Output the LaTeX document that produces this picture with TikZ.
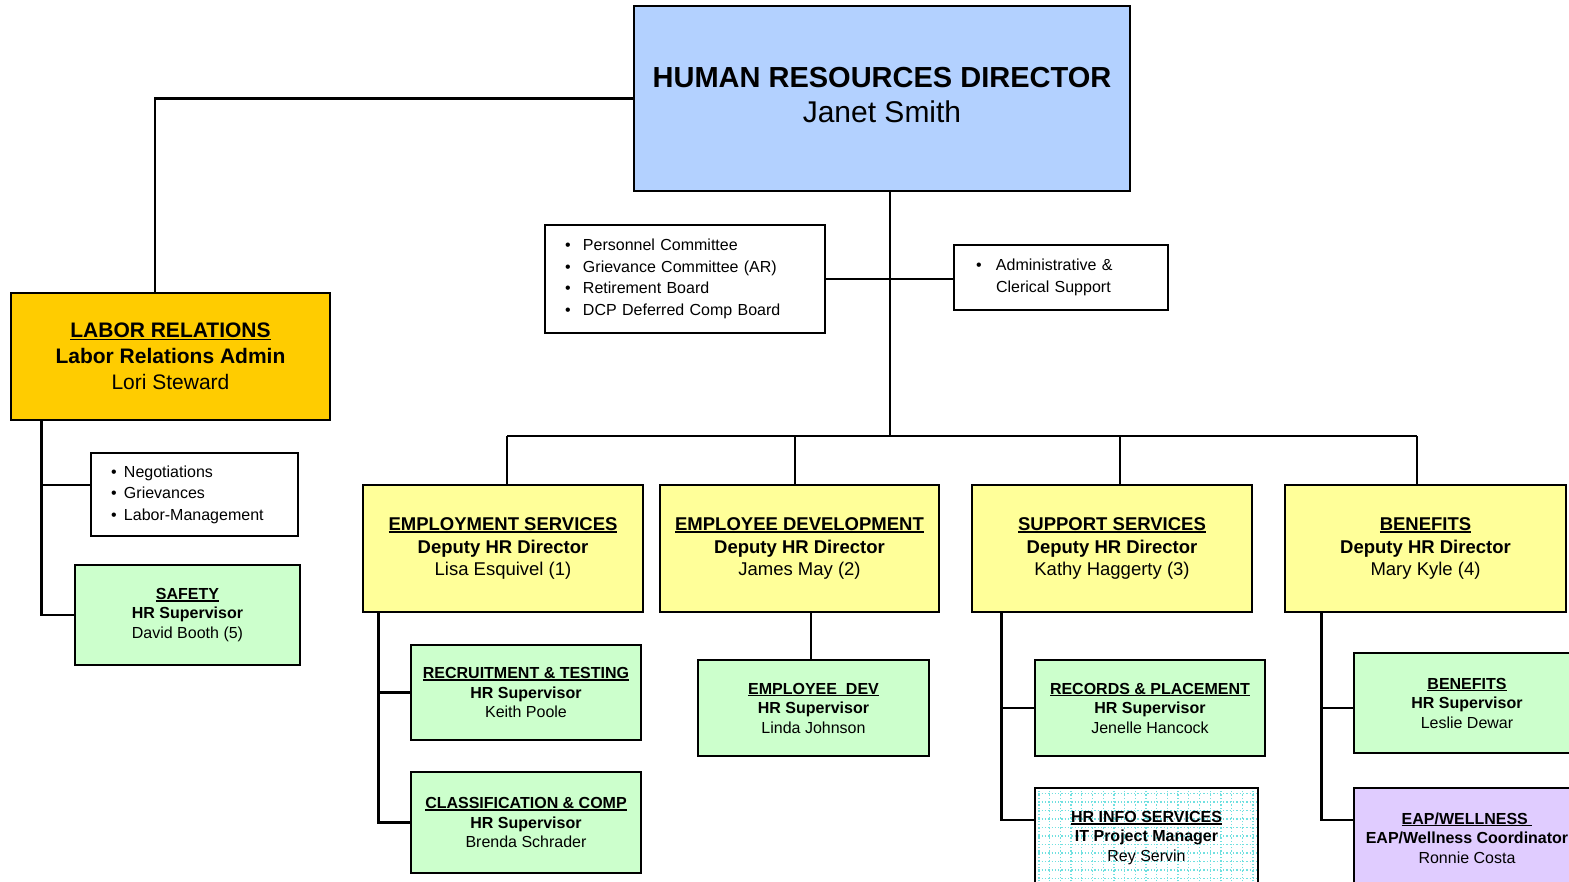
\documentclass[tikz,border=0pt]{standalone}
\usepackage{fontspec}
\setmainfont{Liberation Sans}
\definecolor{hrblue}{HTML}{B3D1FF}
\definecolor{hrgold}{HTML}{FFCC00}
\definecolor{hryellow}{HTML}{FFFF99}
\definecolor{hrgreen}{HTML}{CCFFCC}
\definecolor{hrlilac}{HTML}{E0CCFF}
\definecolor{hrgrid}{HTML}{70E0E0}
\newcommand\ulbf[1]{\sbox0{\bfseries#1}\usebox0\llap{\rule[-0.13em]{\wd0}{0.08em}}}
\newcommand\dotitem[1]{\makebox[#1][l]{\textbullet}}
\begin{document}
\begin{tikzpicture}[x=1pt,y=-1pt,
    box/.style={draw,line width=2.4pt,inner sep=0pt,align=center},
    chief/.style={box,fill=hrblue,minimum width=496pt,minimum height=185pt},
    labor/.style={box,fill=hrgold,font=\fontsize{21}{26}\selectfont,minimum width=319pt,minimum height=127pt},
    deputy/.style={box,fill=hryellow,font=\fontsize{18.5}{22.5}\selectfont,minimum width=280pt,minimum height=127pt},
    unit/.style={box,fill=hrgreen,font=\fontsize{16}{19.5}\selectfont,minimum width=230pt,minimum height=96pt},
    duties/.style={box,fill=white,font=\fontsize{16}{21.5}\selectfont,align=left},
    gridbox/.style={unit,fill=white,path picture={\draw[hrgrid,dotted,line width=1.3pt] (path picture bounding box.south west) grid[xstep=10.7pt,ystep=8.5pt] (path picture bounding box.north east);}},
    link/.style={line width=2.8pt}]
    \useasboundingbox (0,0) rectangle (1569,882);
    \node [chief] (hrd) at (882,98.5) {\raisebox{9pt}{\fontsize{29}{35}\selectfont\begin{tabular}{@{}c@{}}\textbf{HUMAN RESOURCES DIRECTOR}\\\fontsize{30}{35}\selectfont Janet Smith\end{tabular}}};
    \node [labor] (lr) at (170.5,356.5) {\ulbf{LABOR RELATIONS}\\\textbf{Labor Relations Admin}\\Lori Steward};
    \node [duties,text width=167pt,inner xsep=20pt,minimum height=83pt] (neg) at (194.5,494.5) {\dotitem{13pt}Negotiations\\\dotitem{13pt}Grievances\\\dotitem{13pt}Labor-Management};
    \node [unit,minimum width=225pt,minimum height=100pt] (safety) at (187.5,615) {\ulbf{SAFETY}\\\textbf{HR Supervisor}\\David Booth (5)};
    \node [duties,text width=240pt,inner xsep=20pt,minimum height=108pt] (comm) at (685,279) {\dotitem{18pt}Personnel Committee\\\dotitem{18pt}Grievance Committee (AR)\\\dotitem{18pt}Retirement Board\\\dotitem{18pt}DCP Deferred Comp Board};
    \node [duties,text width=170pt,inner xsep=22pt,minimum height=65pt] (admin) at (1061,277.5) {\dotitem{20pt}Administrative \&\\\hspace{20pt}Clerical Support};

    \node [deputy] (es) at (503,548.5) {\ulbf{EMPLOYMENT SERVICES}\\\textbf{Deputy HR Director}\\Lisa Esquivel (1)};
    \node [deputy,minimum width=279pt] (ed) at (799.5,548.5) {\ulbf{EMPLOYEE DEVELOPMENT}\\\textbf{Deputy HR Director}\\James May (2)};
    \node [deputy] (ss) at (1112,548.5) {\ulbf{SUPPORT SERVICES}\\\textbf{Deputy HR Director}\\Kathy Haggerty (3)};
    \node [deputy,minimum width=281pt] (ben) at (1425.5,548.5) {\ulbf{BENEFITS}\\\textbf{Deputy HR Director}\\Mary Kyle (4)};

    \node [unit,minimum height=95pt] (rec) at (526,692.5) {\ulbf{RECRUITMENT \& TESTING}\\\textbf{HR Supervisor}\\Keith Poole};
    \node [unit,minimum height=101pt] (cls) at (526,822.5) {\ulbf{CLASSIFICATION \& COMP}\\\textbf{HR Supervisor}\\Brenda Schrader};
    \node [unit,minimum width=231pt] (empdev) at (813.5,708) {\ulbf{EMPLOYEE\ \ DEV}\\\textbf{HR Supervisor}\\Linda Johnson};
    \node [unit] (rp) at (1150,708) {\ulbf{RECORDS \& PLACEMENT}\\\textbf{HR Supervisor}\\Jenelle Hancock};
    \node [gridbox,minimum width=223pt,minimum height=100pt] (info) at (1146.5,838) {\ulbf{HR INFO SERVICES}\\\textbf{IT Project Manager}\\Rey Servin};
    \node [unit,minimum width=226pt,minimum height=100pt] (bsub) at (1467,703) {\ulbf{BENEFITS}\\\textbf{HR Supervisor}\\Leslie Dewar};
    \node [unit,fill=hrlilac,minimum width=226pt,minimum height=100pt] (eap) at (1467,838) {\ulbf{EAP/WELLNESS\ }\\\textbf{EAP/Wellness Coordinator}\\Ronnie Costa};

    \coordinate (bus) at (890,436);
    \draw [link] (hrd.west) -| ([xshift=-15.5pt]lr.north);
    \draw [link] (hrd.south -| bus) -- (bus);
    \draw [link] (comm.east) -- (comm.east -| admin.west);
    \path ([xshift=4pt]es.north) coordinate (esTop)
          ([xshift=-4.5pt]ed.north) coordinate (edTop)
          ([xshift=8pt]ss.north) coordinate (ssTop)
          ([xshift=-8.5pt]ben.north) coordinate (benTop);
    \draw [link] (esTop |- bus) -- (benTop |- bus);
    \foreach \top in {esTop,edTop,ssTop,benTop}
        \draw [link] (\top) -- (\top |- bus);

    \draw [link] ([xshift=32pt]lr.south west) |- ([yshift=9.5pt]neg.west);
    \draw [link] ([xshift=32pt]lr.south west) |- (safety.west);
    \draw [link] ([xshift=17pt]es.south west) |- (rec.west);
    \draw [link] ([xshift=17pt]es.south west) |- (cls.west);
    \draw [link] ([xshift=-2.5pt]empdev.north) -- ([xshift=-2.5pt]empdev.north |- ed.south);
    \draw [link] ([xshift=31pt]ss.south west) |- (rp.west);
    \draw [link] ([xshift=31pt]ss.south west) |- ([yshift=18pt]info.west);
    \draw [link] ([xshift=38pt]ben.south west) |- ([yshift=-5pt]bsub.west);
    \draw [link] ([xshift=38pt]ben.south west) |- ([yshift=18pt]eap.west);
\end{tikzpicture}
\end{document}
